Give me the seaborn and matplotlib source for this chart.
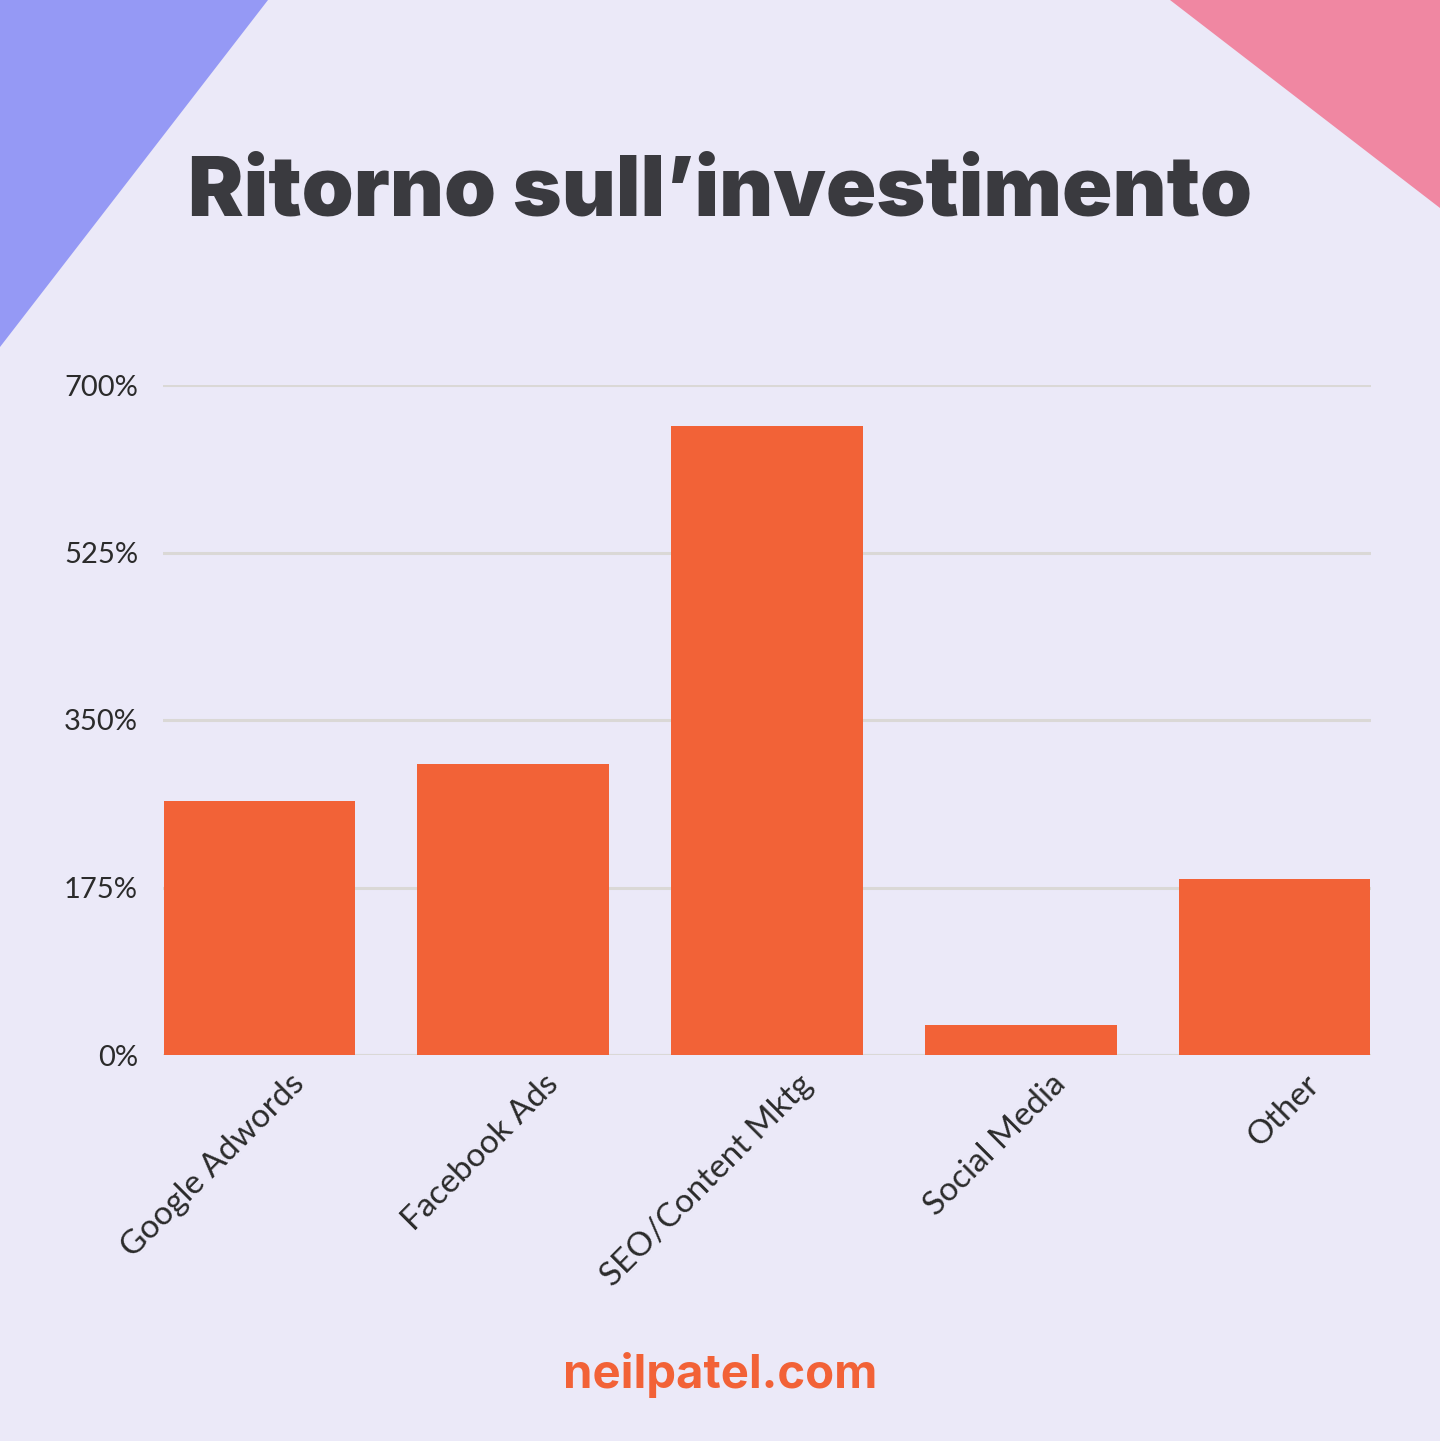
import matplotlib
matplotlib.use("Agg")
import matplotlib.pyplot as plt
import matplotlib.transforms as mtransforms
import seaborn as sns
from matplotlib.patches import Polygon

# data
channels = ["Google Adwords", "Facebook Ads", "SEO/Content Mktg", "Social Media", "Other"]
roi = [265, 304, 657, 31, 184]
yticks = [0, 175, 350, 525, 700]
ytick_labels = ["0%", "175%", "350%", "525%", "700%"]

bg = "#EBE9F8"
bar_color = "#F26237"
title_color = "#3A3A3F"

sns.set_theme(style="white")
plt.rcParams["font.family"] = ["Lato", "DejaVu Sans"]

fig = plt.figure(figsize=(14.4, 14.41), dpi=100)
fig.patch.set_facecolor(bg)

# decorative corner triangles
fig.patches.append(Polygon([(0, 1), (268 / 1440, 1), (0, 1 - 347 / 1441)],
                           closed=True, transform=fig.transFigure,
                           facecolor="#9599F5", edgecolor="none", zorder=0))
fig.patches.append(Polygon([(1170 / 1440, 1), (1, 1), (1, 1 - 208 / 1441)],
                           closed=True, transform=fig.transFigure,
                           facecolor="#F087A2", edgecolor="none", zorder=0))

ax = fig.add_axes([163 / 1440, 1 - 1055 / 1441, 1208 / 1440, 670 / 1441])
ax.patch.set_alpha(0)

sns.barplot(x=channels, y=roi, color=bar_color, width=0.755, saturation=1,
            linewidth=0, ax=ax, zorder=3)

ax.set_ylim(0, 700)
ax.set_xlim(-0.38, 4.38)
ax.set_yticks(yticks)
ax.set_yticklabels(ytick_labels, fontsize=21, color="#2B2B2B")
ax.yaxis.grid(True, color="#DAD8D6", linewidth=2.2)
ax.set_axisbelow(True)
for s in ax.spines.values():
    s.set_visible(False)
ax.axhline(0, color="#DAD8D6", linewidth=2.2, zorder=2)
ax.tick_params(axis="y", length=0, pad=18)
ax.tick_params(axis="x", length=0, pad=10)
shift = mtransforms.ScaledTranslation(0.3, 0, fig.dpi_scale_trans)
for lab in ax.get_xticklabels():
    lab.set_rotation(45)
    lab.set_ha("right")
    lab.set_rotation_mode("anchor")
    lab.set_fontsize(24)
    lab.set_color("#2B2B2B")
    lab.set_transform(lab.get_transform() + shift)
ax.set_xlabel("")
ax.set_ylabel("")

fig.text(0.5, 1 - 194 / 1441, "Ritorno sull\u2019investimento", ha="center", va="center",
         fontsize=60, fontweight="black", color=title_color,
         family=["Inter", "Liberation Sans", "DejaVu Sans"])
fig.text(0.5, 1 - 1375 / 1441, "neilpatel.com", ha="center", va="center",
         fontsize=34, fontweight="bold", color=bar_color,
         family=["Inter", "Liberation Sans", "DejaVu Sans"])

fig.savefig("out.png", dpi=100, facecolor=bg)
